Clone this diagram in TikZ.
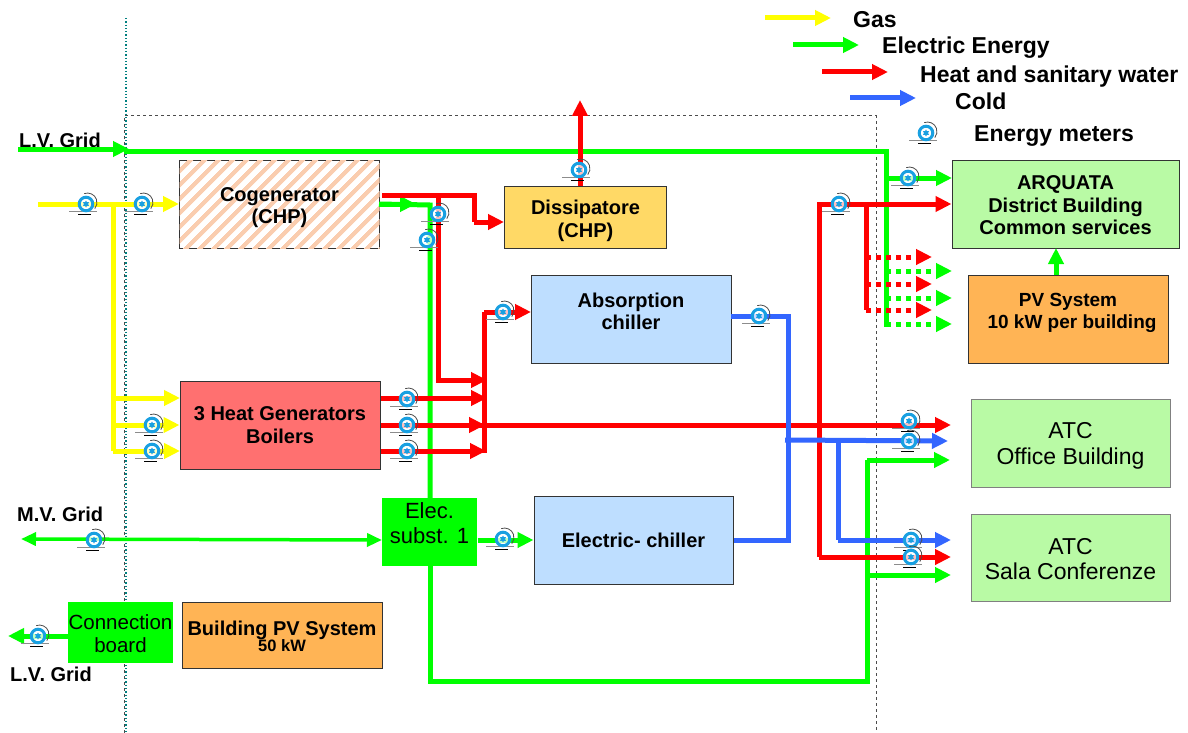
\documentclass[tikz,border=0pt]{standalone}
\usepackage{fontspec}
\setmainfont{Liberation Sans}
\usetikzlibrary{arrows.meta,patterns.meta}

\definecolor{gasyellow}{RGB}{255,255,0}
\definecolor{elecgreen}{RGB}{0,255,0}
\definecolor{heatred}{RGB}{255,0,0}
\definecolor{coldblue}{RGB}{51,102,255}
\definecolor{meterblue}{RGB}{25,160,225}
\definecolor{hatchpeach}{RGB}{250,205,175}
\definecolor{dissipyellow}{RGB}{255,217,102}
\definecolor{chillerblue}{RGB}{190,222,255}
\definecolor{boilerred}{RGB}{255,112,112}
\definecolor{pvorange}{RGB}{255,180,85}
\definecolor{userpale}{RGB}{185,250,165}

% push the text of a box down or up
\newcommand{\dropby}[1]{\rule{0pt}{#1pt}}
\newcommand{\liftby}[1]{\rule[-#1pt]{0pt}{0pt}}

\tikzset{
    box/.style={draw=black!80, line width=1pt, minimum width=#1, inner sep=1pt, align=center, font=\fontsize{20}{22.5}\selectfont\bfseries},
    legendtext/.style={anchor=west, inner sep=0pt, font=\fontsize{23}{26}\selectfont\bfseries},
    gridtext/.style={anchor=west, inner sep=0pt, font=\fontsize{20}{23}\selectfont\bfseries},
    pipe/.style={line width=5pt, -{Triangle[length=16pt,width=15pt]}},
    plainpipe/.style={line width=5pt},
    gas/.style={pipe, gasyellow},
    elec/.style={pipe, elecgreen},
    heat/.style={pipe, heatred},
    cold/.style={pipe, coldblue},
    meter/.pic={
        \draw[black!45, line width=.8pt] (-17,7.5) -- (11,7.5);
        \draw[black, line width=1pt] (-8,10.5) -- (5,10.5);
        \draw[black!70, line width=.8pt] (-1.75,-10.4) arc (-110:40:9.5);
        \fill[white, opacity=.75] (0,0) circle (8);
        \draw[meterblue, line width=3pt] (0,0) circle (6.8);
        \fill[meterblue] (0,-3.5) -- (3,1.8) -- (-3,1.8) -- cycle;
        \fill[meterblue] (0,3.5) -- (3,-1.8) -- (-3,-1.8) -- cycle;
    }
}

\begin{document}
\begin{tikzpicture}[x=1pt, y=-1pt]
    \useasboundingbox (0,0) rectangle (1188,733);

    % boundary
    \draw[black!70, dashed, line width=1pt] (124,733) -- (124,116) -- (876,116) -- (876,733);
    \draw[teal, dotted, line width=1.3pt] (126,18) -- (126,733);

    % boxes
    \node[box=200pt, minimum height=88pt, fill=white, postaction={pattern={Lines[angle=45,distance=10.5pt,line width=4.5pt]}, pattern color=hatchpeach}] (cogen) at (279.5,204) {\dropby{21.5}Cogenerator\\(CHP)};
    \node[box=162pt, minimum height=62pt, fill=dissipyellow] (dissip) at (585.5,217.5) {\dropby{21}Dissipatore\\(CHP)};
    \node[box=200pt, minimum height=88pt, fill=chillerblue] (absorb) at (631,319) {Absorption\\chiller\liftby{15}};
    \node[box=200pt, minimum height=88pt, fill=boilerred] (boilers) at (280,425) {3 Heat Generators\\Boilers};
    \node[box=199pt, minimum height=88pt, fill=chillerblue] (echiller) at (633.5,540) {Electric- chiller};
    \node[box=95pt, minimum height=68pt, draw=none, fill=elecgreen, font=\fontsize{22}{25}\selectfont] (subst) at (429.5,532) {Elec.\\subst. 1\liftby{18}};
    \node[box=104pt, minimum height=61pt, draw=none, fill=elecgreen, font=\fontsize{20.5}{23}\selectfont] (board) at (120.5,632.5) {\dropby{17}Connection\\board};
    \node[box=200pt, minimum height=66pt, fill=pvorange] (buildpv) at (282,635) {\dropby{17}Building PV System\\[-6pt]{\fontsize{16.5}{18}\selectfont 50 kW}};
    \node[box=227pt, minimum height=88pt, fill=userpale] (arquata) at (1065.5,204) {\dropby{17}ARQUATA\\District Building\\Common services};
    \node[box=200pt, minimum height=88pt, fill=pvorange, font=\fontsize{19}{22.5}\selectfont\bfseries] (pvsys) at (1068,319) {PV System\\\hspace*{8pt}10 kW per building\liftby{16}};
    \node[box=199pt, minimum height=88pt, draw=black!50, fill=userpale, font=\fontsize{23}{26}\selectfont] (office) at (1070.5,443) {\dropby{22.5}ATC\\Office Building};
    \node[box=199pt, minimum height=87pt, draw=black!50, fill=userpale, font=\fontsize{23}{25}\selectfont] (sala) at (1070.5,557.5) {\dropby{20}ATC\\Sala Conferenze};

    % legend
    \coordinate (gasa) at (765,18);     \coordinate (gasb) at (831,18);
    \coordinate (eleca) at (793,45);    \coordinate (elecb) at (859,45);
    \coordinate (heata) at (822,72);    \coordinate (heatb) at (888,72);
    \coordinate (colda) at (850,98);    \coordinate (coldb) at (916,98);
    \path[gas] (gasa) edge (gasb);
    \path[elec] (eleca) edge (elecb);
    \path[heat] (heata) edge (heatb);
    \path[cold] (colda) edge (coldb);
    \node[legendtext] (lgas) at (853,19.5) {Gas};
    \node[legendtext] (lelec) at (882,48) {Electric Energy};
    \node[legendtext] (lheat) at (920,76.5) {Heat and sanitary water};
    \node[legendtext] (lcold) at (955,101.5) {Cold};
    \node[legendtext] (lmeter) at (974,136) {Energy meters};

    % grid labels
    \node[gridtext] (lvtop) at (19,140) {L.V. Grid};
    \node[gridtext] (mvgrid) at (17,514) {M.V. Grid};
    \node[gridtext] (lvbot) at (10,674) {L.V. Grid};

    % gas
    \coordinate (gasin) at (38,204);
    \coordinate (gasj) at (113,204);
    \coordinate (gasend) at (113,451);
    \coordinate (boila) at (180,398);
    \coordinate (boilc) at (180,451);
    \draw[gas] (gasin) -- (cogen.west);
    \draw[plainpipe, gasyellow] (gasj) -- (gasend);
    \draw[gas] (113,398) -- (boila);
    \draw[gas] (113,425) -- (boilers.west);
    \draw[gas] (gasend) -- (boilc);

    % electricity
    \coordinate (lvin) at (18,149);
    \coordinate (lvtip) at (129,149);
    \coordinate (lvj) at (886,151);
    \coordinate (lvend) at (886,327);
    \coordinate (arqe) at (952,178);
    \coordinate (cogenout) at (379,204);
    \coordinate (cogentip) at (416,204);
    \coordinate (cogenj) at (430,205);
    \coordinate (substtop) at (430,498);
    \coordinate (substbot) at (430,566);
    \coordinate (loopa) at (430,681);
    \coordinate (loopb) at (867,681);
    \coordinate (loopc) at (867,460);
    \coordinate (officee) at (950,460);
    \coordinate (salae) at (951,575);
    \coordinate (mvend) at (21,539);
    \coordinate (substw) at (382,540);
    \coordinate (boardout) at (68,636);
    \coordinate (lvout) at (8,636);
    \coordinate (pvtop) at (1056,275);
    \coordinate (arqbot) at (1056,248);
    \draw[elec] (lvin) -- (lvtip);
    \draw[plainpipe, elecgreen] (124,151) -- (lvj) -- (lvend);
    \draw[elec] (886,178) -- (arqe);
    \foreach \y in {271,298,324}
        \draw[elec, dash pattern=on 5pt off 5pt] (886,\y) -- (952,\y);
    \draw[plainpipe, elecgreen] (cogenout) -- (cogenj) -- (substtop);
    \draw[elec] (cogenout) -- (cogentip);
    \draw[plainpipe, elecgreen] (substbot) -- (loopa) -- (loopb) -- (loopc);
    \draw[elec] (loopc) -- (officee);
    \draw[elec] (867,575) -- (salae);
    \draw[elecgreen, line width=3.5pt, {Triangle[length=15pt,width=13pt]}-{Triangle[length=15pt,width=13pt]}] (mvend) -- (substw);
    \draw[elec] (subst.east |- echiller.west) -- (echiller.west);
    \draw[elec] (boardout) -- (lvout);
    \draw[elec] (pvtop) -- (arqbot);

    % heat
    \coordinate (cogenhot) at (382,195);
    \coordinate (hotj) at (438,195);
    \coordinate (hotk) at (474,195);
    \coordinate (hotl) at (474,222);
    \coordinate (hotm) at (438,380);
    \coordinate (hotn) at (487,380);
    \coordinate (riserb) at (484,453);
    \coordinate (risert) at (484,312);
    \coordinate (absin) at (531,312);
    \coordinate (boilb) at (381,398);
    \coordinate (boild) at (381,451);
    \coordinate (officer) at (951,425);
    \coordinate (citya) at (819,204);
    \coordinate (cityb) at (819,557);
    \coordinate (salar) at (951,557);
    \coordinate (cityc) at (866,204);
    \coordinate (cityd) at (866,310);
    \draw[plainpipe, heatred] (cogenhot) -- (hotk) -- (hotl);
    \draw[heat] (hotl) -- (hotl -| dissip.west);
    \draw[heat] (hotj) -- (hotm) -- (hotn);
    \draw[heat] (boilb) -- (487,398);
    \draw[heat] (boilers.east) -- (officer);
    \draw[heat] (boilers.east) -- (485,425);
    \draw[heat] (boild) -- (486,451);
    \draw[plainpipe, heatred] (riserb) -- (risert);
    \draw[heat] (risert) -- (absin);
    \draw[heat] (dissip.north -| 580,0) -- (580,100);
    \draw[heat] (cityb) -- (citya) -- (arquata.west);
    \draw[heat] (cityb) -- (salar);
    \draw[plainpipe, heatred] (cityc) -- (cityd);
    \foreach \y in {257,284,310}
        \draw[heat, dash pattern=on 5pt off 5pt] (866,\y) -- (932,\y);

    % cold
    \coordinate (absout) at (731,316);
    \coordinate (coldt) at (788,316);
    \coordinate (coldbot) at (788,540);
    \coordinate (coldj) at (838,441);
    \coordinate (coldk) at (838,540);
    \coordinate (officec) at (948,441);
    \coordinate (salac) at (951,540);
    \draw[plainpipe, coldblue] (absout) -- (coldt) -- (coldbot) -- (echiller.east);
    \draw[cold] (785,440) -- (officec);
    \draw[plainpipe, coldblue] (coldj) -- (coldk);
    \draw[cold] (coldk) -- (salac);

    % meters
    \foreach \x/\y in {86/204,142/204,152/425,152/451,438/214,427/240,579/170,503/312,
                       407/399,407/425,407/451,759/316,503/539,94/540,38/636,
                       839/204,908/178,909/421,909/441,911/540,911/557,926/133}
        \pic at (\x,\y) {meter};
\end{tikzpicture}
\end{document}
